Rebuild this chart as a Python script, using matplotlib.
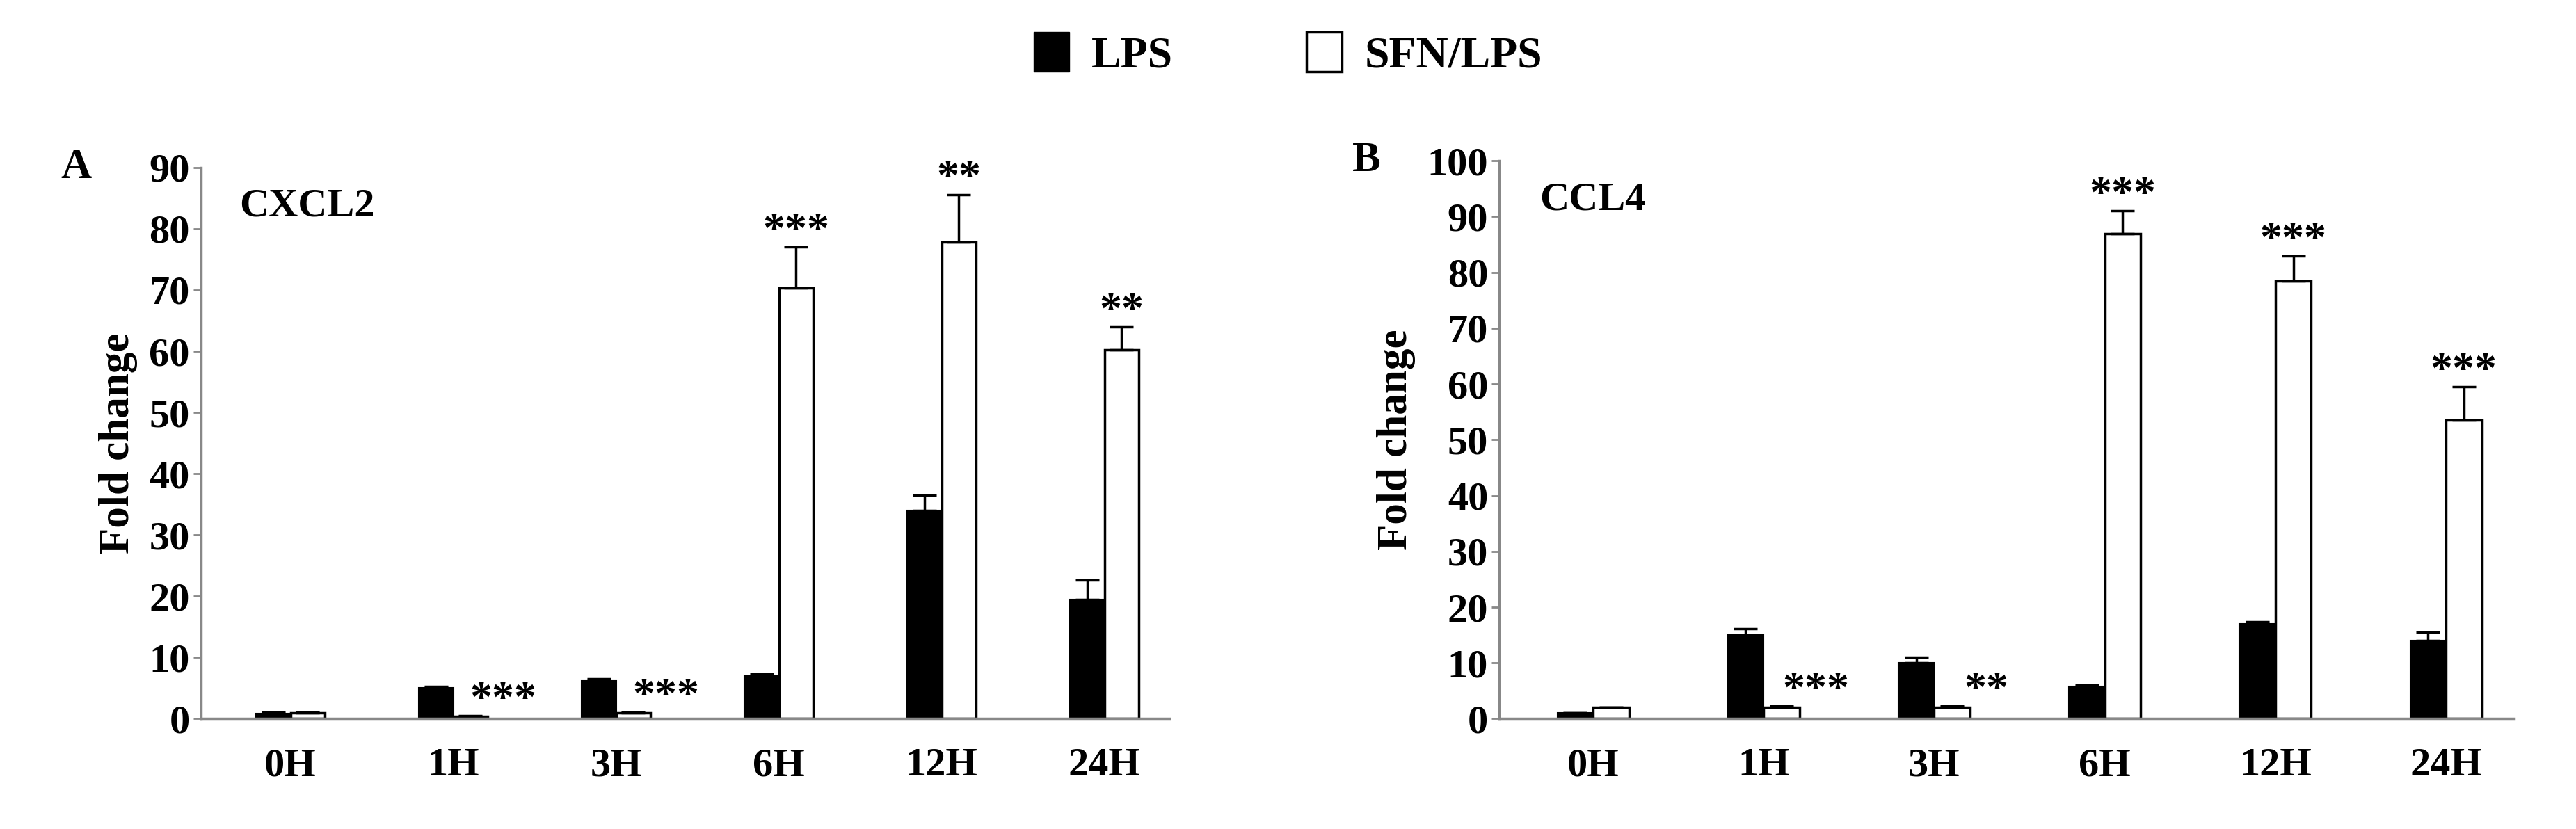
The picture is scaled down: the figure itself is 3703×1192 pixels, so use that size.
import matplotlib
matplotlib.use("Agg")
import matplotlib.pyplot as plt
from matplotlib.patches import Patch
import numpy as np

plt.rcParams["font.family"] = ["Liberation Serif", "DejaVu Serif"]
plt.rcParams["font.weight"] = "bold"

times = ["0H", "1H", "3H", "6H", "12H", "24H"]

# panel A - CXCL2
a_lps = [0.8, 5.0, 6.2, 7.0, 34.0, 19.5]
a_lps_err = [0.3, 0.3, 0.3, 0.3, 2.5, 3.2]
a_sfn = [1.0, 0.4, 1.0, 70.3, 77.8, 60.2]
a_sfn_err = [0.1, 0.1, 0.1, 6.7, 7.8, 3.8]
a_stars = ["", "***", "***", "***", "**", "**"]

# panel B - CCL4
b_lps = [1.0, 15.0, 10.0, 5.8, 17.0, 14.0]
b_lps_err = [0.1, 1.2, 1.0, 0.3, 0.4, 1.5]
b_sfn = [2.0, 2.0, 2.0, 87.0, 78.5, 53.5]
b_sfn_err = [0.1, 0.3, 0.3, 4.0, 4.5, 6.0]
b_stars = ["", "***", "**", "***", "***", "***"]

fig = plt.figure(figsize=(37.03, 11.92), dpi=100)
axA = fig.add_axes([0.078, 0.133, 0.376, 0.665])
axB = fig.add_axes([0.582, 0.133, 0.394, 0.673])

w = 0.21
fs = 42


def draw(ax, lps, lps_err, sfn, sfn_err, stars, ymax, step, gene, letter):
    x = np.arange(len(times))
    ax.bar(x - w / 2, lps, w, color="black", edgecolor="black", linewidth=1.5,
           yerr=[np.zeros(len(lps)), lps_err], error_kw=dict(ecolor="black", elinewidth=2.5, capsize=12, capthick=2.5))
    ax.bar(x + w / 2, sfn, w, color="white", edgecolor="black", linewidth=2.5,
           yerr=[np.zeros(len(sfn)), sfn_err], error_kw=dict(ecolor="black", elinewidth=2.5, capsize=12, capthick=2.5))
    for i, s in enumerate(stars):
        if not s:
            continue
        top = sfn[i] + sfn_err[i]
        dx = 0.2 if top < 5 else 0.0
        ax.text(x[i] + w / 2 + dx, top - ymax * 0.01, s, ha="center", va="bottom",
                fontsize=fs + 4, fontweight="bold")
    ax.set_ylim(0, ymax)
    ax.set_yticks(np.arange(0, ymax + 1, step))
    ax.set_xlim(-0.55, 5.4)
    ax.set_xticks(x)
    ax.set_xticklabels(times)
    for sp in ["top", "right"]:
        ax.spines[sp].set_visible(False)
    for sp in ["left", "bottom"]:
        ax.spines[sp].set_color("#888888")
        ax.spines[sp].set_linewidth(2.5)
    ax.tick_params(axis="y", labelsize=fs, length=8, width=2, color="#888888")
    ax.tick_params(axis="x", labelsize=fs, length=0, pad=30)
    ax.set_ylabel("Fold change", fontsize=fs + 2, fontweight="bold", labelpad=12)
    ax.text(0.04, 0.93, gene, transform=ax.transAxes, fontsize=fs, fontweight="bold", va="center")
    ax.text(-0.145, 1.0, letter, transform=ax.transAxes, fontsize=fs + 2, fontweight="bold", va="center")


draw(axA, a_lps, a_lps_err, a_sfn, a_sfn_err, a_stars, 90, 10, "CXCL2", "A")
draw(axB, b_lps, b_lps_err, b_sfn, b_sfn_err, b_stars, 100, 10, "CCL4", "B")

handles = [Patch(facecolor="black", edgecolor="black", label="LPS"),
           Patch(facecolor="white", edgecolor="black", linewidth=2.5, label="SFN/LPS")]
fig.legend(handles=handles, loc="upper center", bbox_to_anchor=(0.5, 1.01), ncol=2, frameon=False,
           fontsize=fs + 4, handlelength=0.8, handleheight=1.0, handletextpad=0.5, columnspacing=3.0)

fig.savefig("out.png", dpi=100)
